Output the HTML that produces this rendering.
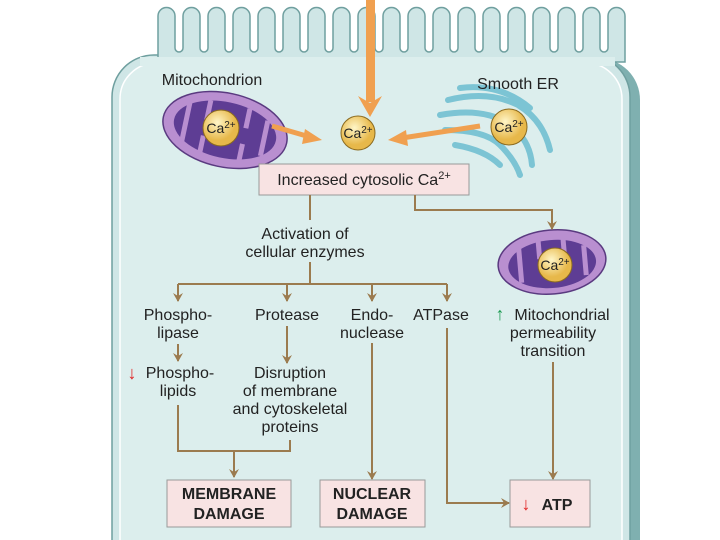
<!DOCTYPE html>
<html><head><style>html,body{margin:0;background:#fff;overflow:hidden;width:720px;height:540px}svg{display:block}text{font-family:"Liberation Sans",sans-serif;fill:#222}</style></head><body>
<svg width="720" height="540" viewBox="0 0 720 540" xmlns="http://www.w3.org/2000/svg">
<defs>
<marker id="a" markerWidth="10" markerHeight="10" refX="8" refY="5" orient="auto" markerUnits="userSpaceOnUse"><path d="M0,0 L9,5 L0,10 L3,5 Z" fill="#9b7b4f"/></marker>
<radialGradient id="ca" cx="40%" cy="35%"><stop offset="0" stop-color="#fff6c8"/><stop offset="1" stop-color="#e7b84a"/></radialGradient>
</defs>
<rect x="118" y="58" width="522" height="560" rx="42" fill="#7fb0b0"/>
<rect x="112" y="55" width="518" height="560" rx="42" fill="#cfe6e6" stroke="#6f9f9f" stroke-width="1.5"/>
<rect x="120" y="63" width="502" height="560" rx="36" fill="#dceeed" stroke="#fff" stroke-width="1.5"/>
<path fill="#cfe6e6" stroke="#6f9f9f" stroke-width="1.5" d="M158,62 V16 a8.5,8.5 0 0 1 17,0 V48 a4,4 0 0 0 8,0 V16 a8.5,8.5 0 0 1 17,0 V48 a4,4 0 0 0 8,0 V16 a8.5,8.5 0 0 1 17,0 V48 a4,4 0 0 0 8,0 V16 a8.5,8.5 0 0 1 17,0 V48 a4,4 0 0 0 8,0 V16 a8.5,8.5 0 0 1 17,0 V48 a4,4 0 0 0 8,0 V16 a8.5,8.5 0 0 1 17,0 V48 a4,4 0 0 0 8,0 V16 a8.5,8.5 0 0 1 17,0 V48 a4,4 0 0 0 8,0 V16 a8.5,8.5 0 0 1 17,0 V48 a4,4 0 0 0 8,0 V16 a8.5,8.5 0 0 1 17,0 V48 a4,4 0 0 0 8,0 V16 a8.5,8.5 0 0 1 17,0 V48 a4,4 0 0 0 8,0 V16 a8.5,8.5 0 0 1 17,0 V48 a4,4 0 0 0 8,0 V16 a8.5,8.5 0 0 1 17,0 V48 a4,4 0 0 0 8,0 V16 a8.5,8.5 0 0 1 17,0 V48 a4,4 0 0 0 8,0 V16 a8.5,8.5 0 0 1 17,0 V48 a4,4 0 0 0 8,0 V16 a8.5,8.5 0 0 1 17,0 V48 a4,4 0 0 0 8,0 V16 a8.5,8.5 0 0 1 17,0 V48 a4,4 0 0 0 8,0 V16 a8.5,8.5 0 0 1 17,0 V48 a4,4 0 0 0 8,0 V16 a8.5,8.5 0 0 1 17,0 V48 a4,4 0 0 0 8,0 V16 a8.5,8.5 0 0 1 17,0 V62 Z"/>
<rect x="140" y="57" width="475" height="9" fill="#dceeed"/>
<rect x="366" y="0" width="9" height="102" fill="#f0a050"/>
<path d="M358,96 L370,117 L382,96 L370,103 Z" fill="#f0a050"/>
<g transform="rotate(12 225 130)">
<ellipse cx="225" cy="130" rx="63" ry="37" fill="#b98fd0" stroke="#5a3a80" stroke-width="1.5"/>
<ellipse cx="225" cy="130" rx="52" ry="28" fill="#5e3d94"/>
<path d="M185,110 v40 M205,104 v20 M205,140 v18 M245,104 v20 M245,140 v18 M265,112 v36" stroke="#b98fd0" stroke-width="5"/>
</g>
<g fill="none" stroke="#7cc4d4" stroke-width="6" stroke-linecap="round">
<path d="M448,100 q40,-10 70,5 q25,15 32,45"/><path d="M440,115 q45,-8 70,10 q20,15 22,40"/><path d="M445,130 q40,0 55,15 q15,15 20,30"/><path d="M460,88 q40,-5 70,20"/><path d="M455,145 q30,5 45,20"/>
</g>
<g stroke="#8a6a20" stroke-width="1"><circle cx="221" cy="128" r="18" fill="url(#ca)"/><circle cx="358" cy="133" r="17" fill="url(#ca)"/><circle cx="509" cy="127" r="18" fill="url(#ca)"/></g>
<text x="221" y="133" font-size="14" text-anchor="middle">Ca<tspan font-size="10" dy="-5">2+</tspan></text>
<text x="358" y="138" font-size="14" text-anchor="middle">Ca<tspan font-size="10" dy="-5">2+</tspan></text>
<text x="509" y="132" font-size="14" text-anchor="middle">Ca<tspan font-size="10" dy="-5">2+</tspan></text>
<g stroke="#f0a050" stroke-width="5"><line x1="272" y1="126" x2="310" y2="137"/><line x1="480" y1="126" x2="402" y2="138"/></g>
<path d="M305,129 L322,140 L302,144 Z" fill="#f0a050"/><path d="M406,130 L388,140 L408,146 Z" fill="#f0a050"/>
<text x="212" y="85" font-size="16" text-anchor="middle">Mitochondrion</text>
<text x="518" y="89" font-size="16" text-anchor="middle">Smooth ER</text>
<rect x="259" y="164" width="210" height="31" fill="#f8e3e3" stroke="#999"/>
<text x="364" y="185" font-size="16" text-anchor="middle">Increased cytosolic Ca<tspan font-size="11" dy="-6">2+</tspan></text>
<g transform="rotate(-5 552 262)">
<ellipse cx="552" cy="262" rx="54" ry="32" fill="#b98fd0" stroke="#5a3a80" stroke-width="1.5"/>
<ellipse cx="552" cy="264" rx="44" ry="24" fill="#5e3d94"/>
<path d="M520,245 v35 M540,240 v18 M565,240 v18 M585,248 v30" stroke="#b98fd0" stroke-width="5"/>
</g>
<circle cx="555" cy="265" r="17" fill="url(#ca)" stroke="#8a6a20"/>
<text x="555" y="270" font-size="14" text-anchor="middle">Ca<tspan font-size="10" dy="-5">2+</tspan></text>
<g fill="none" stroke="#9b7b4f" stroke-width="2">
<path d="M310,195 V220"/><path d="M310,262 V284 M178,284 H447"/>
<path d="M178,284 V301" marker-end="url(#a)"/><path d="M287,284 V301" marker-end="url(#a)"/><path d="M372,284 V301" marker-end="url(#a)"/><path d="M447,284 V301" marker-end="url(#a)"/>
<path d="M415,195 V210 H552 V229" marker-end="url(#a)"/>
<path d="M178,344 V361" marker-end="url(#a)"/>
<path d="M287,326 V363" marker-end="url(#a)"/>
<path d="M372,343 V479" marker-end="url(#a)"/>
<path d="M447,328 V503 H509" marker-end="url(#a)"/>
<path d="M553,362 V479" marker-end="url(#a)"/>
<path d="M178,405 V451 H290 V440"/><path d="M234,451 V477" marker-end="url(#a)"/>
</g>
<g font-size="16" text-anchor="middle">
<text x="305" y="239">Activation of</text><text x="305" y="257">cellular enzymes</text>
<text x="178" y="320">Phospho-</text><text x="178" y="338">lipase</text>
<text x="287" y="320">Protease</text>
<text x="372" y="320">Endo-</text><text x="372" y="338">nuclease</text>
<text x="441" y="320">ATPase</text>
<text x="562" y="320">Mitochondrial</text><text x="553" y="338">permeability</text><text x="553" y="356">transition</text>
<text x="180" y="378">Phospho-</text><text x="178" y="396">lipids</text>
<text x="290" y="378">Disruption</text><text x="290" y="396">of membrane</text><text x="290" y="414">and cytoskeletal</text><text x="290" y="432">proteins</text>
</g>
<text x="500" y="320" font-size="18" font-weight="bold" style="fill:#1a9a50" text-anchor="middle">↑</text>
<text x="132" y="379" font-size="18" font-weight="bold" style="fill:#e02020" text-anchor="middle">↓</text>
<g fill="#f8e3e3" stroke="#999"><rect x="167" y="480" width="124" height="47"/><rect x="320" y="480" width="105" height="47"/><rect x="510" y="480" width="80" height="47"/></g>
<g font-size="16" font-weight="bold" text-anchor="middle">
<text x="229" y="499">MEMBRANE</text><text x="229" y="519">DAMAGE</text>
<text x="372" y="499">NUCLEAR</text><text x="372" y="519">DAMAGE</text>
<text x="557" y="510">ATP</text>
</g>
<text x="526" y="510" font-size="18" font-weight="bold" style="fill:#e02020" text-anchor="middle">↓</text>
</svg>
</body></html>
